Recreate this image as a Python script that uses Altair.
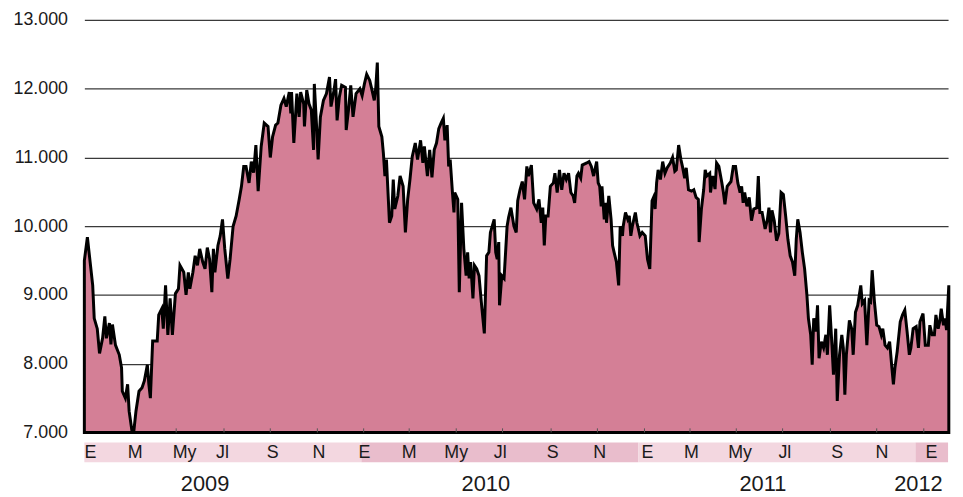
import altair as alt
import pandas as pd

# ---- data (days since 2009-01-01, index level) ----
days = [0,4,11,13,17,20,24,27,29,33,35,37,41,46,49,50,54,57,59,63,65,68,72,76,79,83,85,87,90,96,
        98,102,104,107,110,113,116,120,124,126,131,134,137,139,143,146,149,152,156,159,162,165,168,170,172,176,179,182,185,189,
        192,196,200,204,207,210,213,217,220,223,226,229,233,237,242,245,248,252,255,259,263,266,270,272,273,276,280,283,285,289,
        290,293,296,299,302,303,306,308,311,315,319,323,325,329,331,333,336,339,344,345,348,351,354,358,363,366,369,372,376,379,
        382,384,386,388,392,394,396,398,402,405,407,409,413,416,420,423,426,429,432,436,439,443,446,448,452,455,458,461,464,467,
        470,473,475,478,480,482,485,487,488,492,494,497,500,503,505,507,509,512,514,517,520,523,527,530,533,535,540,542,544,546,
        547,550,553,555,557,559,562,566,569,571,574,577,580,583,585,589,592,596,599,602,604,606,608,611,614,618,620,623,626,629,
        632,635,638,641,644,646,649,651,654,656,662,665,668,671,675,677,679,681,682,685,687,688,691,694,696,698,701,704,706,709,
        710,713,716,718,720,722,726,728,730,732,735,739,742,745,748,750,752,754,756,759,762,765,768,772,775,778,780,783,786,788,
        791,793,796,800,803,806,809,810,813,816,818,820,824,825,828,831,833,836,840,842,844,847,852,855,858,861,864,866,868,870,
        873,876,879,882,886,888,890,893,897,900,902,904,906,909,912,915,918,921,924,927,930,933,936,938,940,943,946,949,952,954,
        957,959,961,964,966,968,971,974,977,979,982,985,987,990,992,995,998,1000,1002,1004,1008,1011,1013,1016,1019,1023,1025,1028,1031,1034,
        1036,1038,1041,1044,1047,1050,1052,1055,1058,1061,1064,1066,1068,1071,1075,1078,1081,1084,1087,1089,1092,1096,1099,1101,1105,1108,1112,1114,1117,1120,
        1122,1125,1127,1129,1132,1134,1136,1139]
values = [9500,9840,9140,8660,8510,8150,8370,8690,8370,8590,8280,8570,8270,8130,7940,7600,7500,7700,7310,7000,7000,7310,7600,7650,7750,7985,7700,7500,8330,8330,
          8710,8800,8510,9140,8420,8950,8420,9020,9090,9430,9330,9000,9330,9090,9330,9570,9430,9670,9480,9380,9690,9520,9040,9670,9330,9720,9860,10100,9670,9240,
          9520,10000,10150,10390,10580,10870,10870,10630,10940,10780,11180,10510,11160,11500,11450,11000,11300,11470,11500,11760,11860,11740,11950,11640,11950,11210,11930,11590,11950,11780,
          11450,11980,11780,11690,11110,12070,11450,10970,11590,11830,11930,12170,11740,11980,12140,11540,11880,12050,12020,11400,11690,12050,11590,11930,12000,11900,12070,12210,12120,11980,
          11830,12020,12380,11450,11300,11060,10730,10970,10050,10150,10680,10250,10440,10730,10580,9910,10390,10680,11010,11210,10970,11250,10920,11160,10730,11110,10710,11110,11210,11420,
          11500,11570,11250,11470,10870,10970,10490,10200,10490,10390,9040,10340,9670,9280,9620,9240,9480,8950,9430,9380,9280,8900,8440,9570,9620,9910,10100,9620,9520,9770,
          8850,9280,9240,9620,10000,10130,10270,10000,9910,10370,10530,10650,10390,10870,10730,10890,10340,10250,10390,10050,10270,9720,10150,10150,10580,10630,10770,10490,10820,10530,
          10770,10680,10770,10490,10440,10340,10730,10770,10700,10890,10920,10940,10870,10730,10940,10630,10580,10290,10580,10100,10340,10050,10440,10100,9720,9620,9480,9140,10000,9860,
          10000,10200,10100,10150,9860,10000,10200,10050,9960,9860,9910,9860,9520,9380,10370,10420,10250,10630,10820,10680,10940,10770,10850,10920,11000,10800,10820,11180,10970,10870,
          10700,10850,10530,10510,10530,10420,10390,9770,10250,10530,10820,10730,10770,10490,10730,10540,10920,10870,10630,10490,10320,10580,10650,10870,10870,10630,10490,10580,10340,10490,
          10290,10420,10080,10250,10270,10730,10200,10200,9960,10100,10270,9910,10230,10080,9790,9890,10490,10460,10150,9810,9570,9480,9280,9810,10100,9910,9620,9380,9000,8660,
          8420,7985,8660,8470,8850,8080,8320,8230,8420,8130,8850,8270,7840,8510,7460,8130,8420,8230,7550,8130,8630,8510,8130,8750,8850,9140,8875,8920,8270,8920,
          8900,9360,8900,8560,8540,8420,8510,8270,8230,8320,7940,7700,7940,8180,8610,8710,8780,8470,8130,8230,8510,8540,8230,8610,8730,8270,8270,8560,8420,8420,
          8710,8510,8610,8800,8560,8660,8490,9140]

y_ticks = [7000, 8000, 9000, 10000, 11000, 12000, 13000]
y_base = 7000

# month labels (Spanish initials) and where their centres fall (days since 2009-01-01)
month_labels = ["E", "M", "My", "Jl", "S", "N"] * 3 + ["E"]
month_days = [8, 67, 132, 182, 248, 309, 369, 428, 490, 548, 617, 679,
              742, 800, 864, 923, 992, 1051, 1116]

# small ticks along the base line (every two months)
tick_days = [121, 184, 245, 307, 368, 428, 490, 551, 615, 676, 738, 798,
             859, 920, 983, 1044, 1106]

years = ["2009", "2010", "2011", "2012"]
year_label_days = [159, 529, 894, 1099]
year_start = ["2009-01-01", "2010-01-01", "2011-01-01", "2012-01-01"]
year_end = ["2010-01-01", "2011-01-01", "2012-01-01", "2012-02-13"]
year_shade = ["light", "dark", "light", "dark"]

base = pd.Timestamp("2009-01-01")


def to_date(d):
    return (base + pd.Timedelta(days=d)).strftime("%Y-%m-%d")


df = pd.DataFrame({"date": [to_date(d) for d in days], "value": values})
df_months = pd.DataFrame({"date": [to_date(d) for d in month_days], "label": month_labels})
df_ticks = pd.DataFrame({"date": [to_date(d) for d in tick_days]})
df_years = pd.DataFrame({"date": [to_date(d) for d in year_label_days], "label": years})
df_bands = pd.DataFrame({"start": year_start, "end": year_end, "shade": year_shade})


def ms(s):
    return int(pd.Timestamp(s, tz="UTC").timestamp() * 1000)


xscale = alt.Scale(domain=[ms("2009-01-01"), ms("2012-02-13")])
FONT = "Liberation Sans"
TXT = "#1a1a1a"

area = alt.Chart(df).mark_area(
    fill="#d47f96", stroke="#000000", strokeWidth=3, fillOpacity=1
).encode(
    x=alt.X("date:T", scale=xscale, axis=None),
    y=alt.Y(
        "value:Q",
        scale=alt.Scale(domain=[7000, 13000], nice=False, zero=False),
        axis=alt.Axis(
            values=y_ticks,
            labelExpr="replace(format(datum.value, ','), ',', '.')",
            grid=True, gridColor="#3a3a3a", gridWidth=1.3,
            domain=False, ticks=False,
            labelFontSize=18, labelFont=FONT, labelColor=TXT, labelPadding=17,
            title=None,
        ),
    ),
    y2=alt.datum(y_base),
)

ticks = alt.Chart(df_ticks).mark_rule(color="#555555", strokeWidth=1).encode(
    x=alt.X("date:T", scale=xscale, axis=None),
    y=alt.datum(7000),
    y2=alt.datum(7060),
)

main = alt.layer(area, ticks).properties(width=871, height=416)

bands = alt.Chart(df_bands).mark_rect().encode(
    x=alt.X("start:T", scale=xscale, axis=None),
    x2="end:T",
    color=alt.Color(
        "shade:N",
        scale=alt.Scale(domain=["light", "dark"], range=["#f3d7e0", "#e9bdcc"]),
        legend=None,
    ),
)

mtext = alt.Chart(df_months).mark_text(
    font=FONT, fontSize=18, color=TXT, align="center", baseline="middle"
).encode(
    x=alt.X("date:T", scale=xscale, axis=None),
    y=alt.value(11),
    text="label:N",
)

ytext = alt.Chart(df_years).mark_text(
    font=FONT, fontSize=22, color=TXT, align="center", baseline="alphabetic"
).encode(
    x=alt.X("date:T", scale=xscale, axis=None),
    y=alt.value(49),
    text="label:N",
)

band = alt.layer(bands, mtext, ytext).properties(width=871, height=20)

chart = alt.vconcat(main, band, spacing=10, bounds="flush").configure_view(stroke=None).properties(
    padding={"left": 4, "top": 1, "right": 0, "bottom": 0}
)

chart.save("out.html", embed_options={"renderer": "svg", "actions": False})
